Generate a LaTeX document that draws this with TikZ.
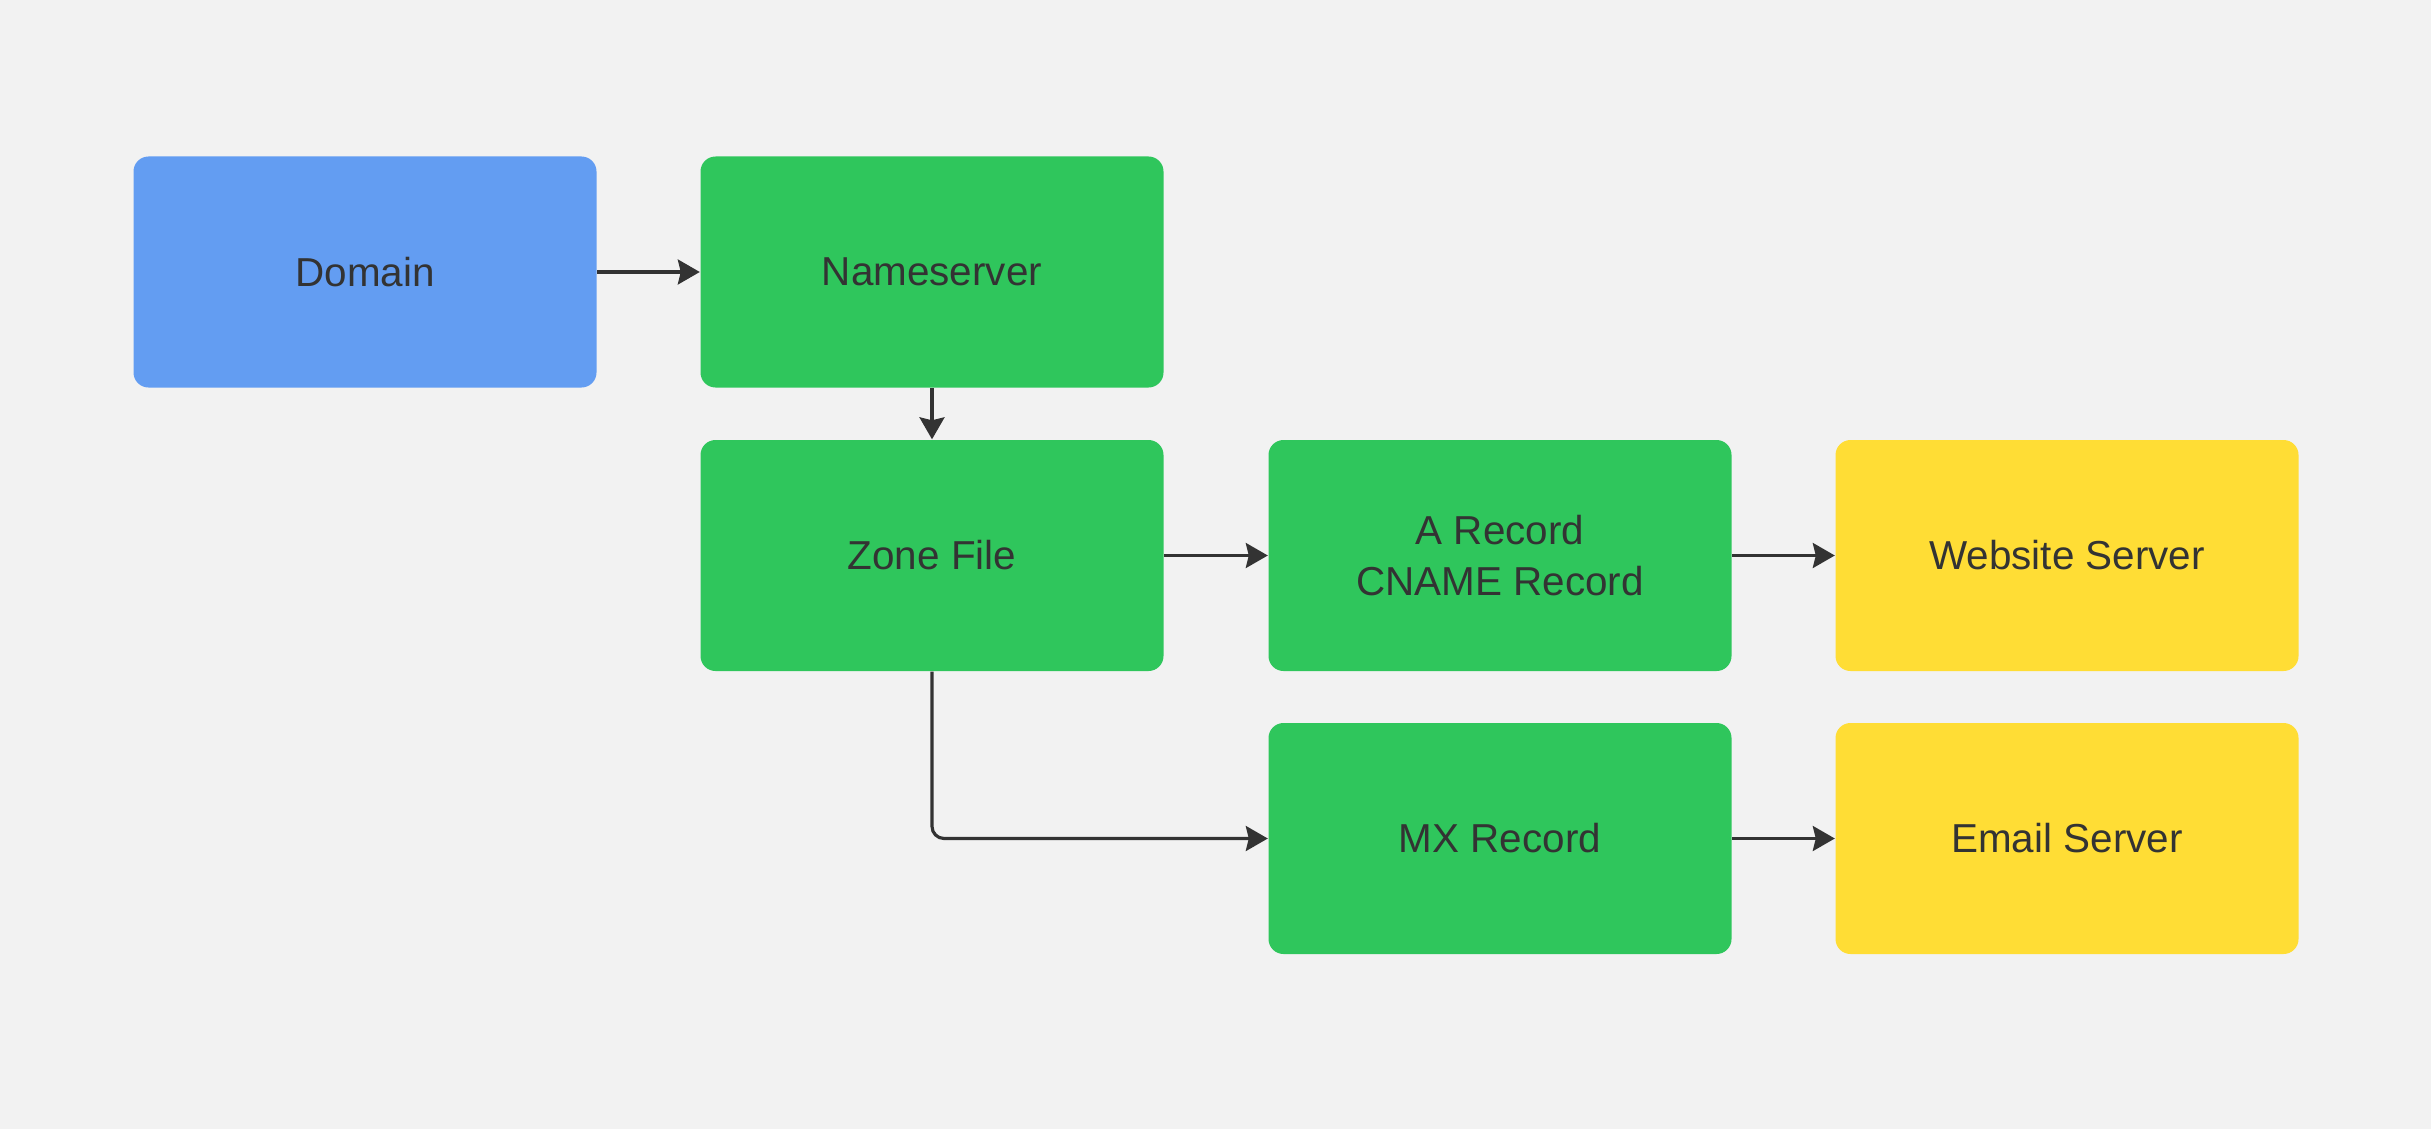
\documentclass[tikz,border=0pt]{standalone}
\usepackage{fontspec}
\setmainfont{Liberation Sans}
\usepackage{tikz}
\usetikzlibrary{arrows.meta}

\definecolor{bgcol}{HTML}{F2F2F2}
\definecolor{domblue}{HTML}{639DF2}
\definecolor{nsgreen}{HTML}{2FC65C}
\definecolor{srvyellow}{HTML}{FFDD35}
\definecolor{inkcol}{HTML}{333333}

\begin{document}
\begin{tikzpicture}[every node/.style={text=inkcol},
	box/.style={rounded corners=0.15cm, minimum width=4.63cm, minimum height=2.31cm,
		inner sep=0pt, align=center, font=\fontsize{11.5}{14.5}\selectfont},
	arr/.style={draw=inkcol, line width=0.9pt, -{Stealth[length=0.22cm,width=0.25cm,inset=0.03cm]}}]
	\fill[bgcol] (0,0) rectangle (24.31,-11.29);
	\useasboundingbox (0,0) rectangle (24.31,-11.29);
	% first row
	\node[box,fill=domblue] (domain) at (3.65,-2.72) {\raisebox{-0.4ex}{Domain}};
	\node[box,fill=nsgreen] (ns) at (9.32,-2.72) {\raisebox{-0.4ex}{Nameserver}};
	% second row
	\node[box,fill=nsgreen] (zone) at (9.32,-5.555) {\raisebox{-0.4ex}{Zone File}};
	\node[box,fill=nsgreen] (arec) at (15.0,-5.555) {A Record\\CNAME Record};
	\node[box,fill=srvyellow] (web) at (20.67,-5.555) {\raisebox{-0.4ex}{Website Server}};
	% third row
	\node[box,fill=nsgreen] (mx) at (15.0,-8.385) {\raisebox{-0.4ex}{MX Record}};
	\node[box,fill=srvyellow] (mail) at (20.67,-8.385) {\raisebox{-0.4ex}{Email Server}};
	% connectors
	\draw[arr] (domain) -- (ns);
	\draw[arr] (ns) -- (zone);
	\draw[arr] (zone) -- (arec);
	\draw[arr] (arec) -- (web);
	\draw[arr, rounded corners=0.12cm] (zone.south) |- (mx.west);
	\draw[arr] (mx) -- (mail);
\end{tikzpicture}
\end{document}
